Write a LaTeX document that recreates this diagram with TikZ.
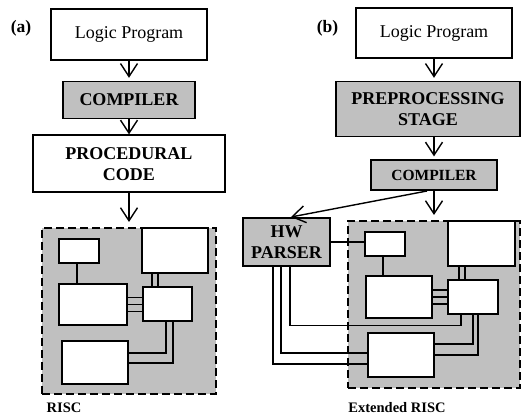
\documentclass[tikz,border=0pt]{standalone}
\usepackage{fontspec}
\setmainfont{Liberation Serif}
\usepackage{xcolor}
\usepackage{tikz}
\usetikzlibrary{arrows.meta,positioning}
\definecolor{boxgray}{RGB}{192,192,192}

\begin{document}
\begin{tikzpicture}[x=1pt,y=-1pt]
                \tikzstyle{block} = [draw, rectangle, line width=1.6pt, inner sep=0pt, align=center, font=\fontsize{18}{21}\selectfont\bfseries]
                \tikzstyle{shaded} = [block, fill=boxgray]
                \tikzstyle{unit} = [draw, rectangle, line width=1.6pt, fill=white, inner sep=0pt]
                \tikzstyle{chip} = [draw, rectangle, dash pattern=on 8pt off 4pt, line width=1.6pt, fill=boxgray, inner sep=0pt]
                \tikzstyle{flow} = [-{Straight Barb[length=13pt,width=17pt]}, line width=1.4pt, shorten >=3pt]
                \tikzstyle{wire} = [line width=1.2pt]
                \tikzstyle{caption} = [font=\fontsize{14.5}{17}\selectfont\bfseries, anchor=base, inner sep=0pt]
                \tikzstyle{tag} = [font=\fontsize{17.5}{20}\selectfont\bfseries]

                \useasboundingbox (0,0) rectangle (522,414);

                % (a) plain flow
                \node [tag] (tag-a) at (21,28) {(a)};
                \node [block, font=\fontsize{18}{21}\selectfont, minimum width=156pt, minimum height=51pt] (logic-a) at (129,34.5) {Logic Program};
                \node [shaded, minimum width=132pt, minimum height=37pt, below = 20pt of logic-a] (compiler-a) {COMPILER};
                \node [block, minimum width=192pt, minimum height=57pt, below = 15pt of compiler-a] (code-a) {PROCEDURAL\\CODE};
                \node [chip, minimum width=174pt, minimum height=166pt, below = 34pt of code-a] (risc-a) {};
                \node [caption] (name-a) at (64,412) {RISC};

                \node [unit, minimum width=40pt, minimum height=24pt] (a-small) at (79,251) {};
                \node [unit, minimum width=66pt, minimum height=45pt] (a-mem) at (175,250.5) {};
                \node [unit, minimum width=68pt, minimum height=41pt] (a-left) at (93,304.5) {};
                \node [unit, minimum width=49pt, minimum height=34pt] (a-right) at (167.5,304) {};
                \node [unit, minimum width=66pt, minimum height=43pt] (a-low) at (95,362.5) {};

                \draw [flow] (logic-a) -- (compiler-a);
                \draw [flow, shorten >=0pt] (compiler-a) -- (code-a);
                \draw [flow, shorten >=5pt] (code-a) -- (risc-a);

                \draw [wire] ([xshift=-2pt]a-small.south) -- ([xshift=-2pt]a-small.south |- a-left.north);
                \foreach \dx in {-15.5,-9.5}
                    \draw [wire] ([xshift=\dx pt]a-right.north) -- ([xshift=\dx pt]a-right.north |- a-mem.south);
                \foreach \dy in {7,0,-7}
                    \draw [wire] ([yshift=\dy pt]a-left.east) -- ([yshift=\dy pt]a-left.east -| a-right.west);
                \draw [wire] ([xshift=-1.5pt]a-right.south) |- ([yshift=9.5pt]a-low.east);
                \draw [wire] ([xshift=5.5pt]a-right.south) |- ([yshift=-0.5pt]a-low.east);

                % (b) with preprocessing and HW parser
                \node [tag] (tag-b) at (327.5,28) {(b)};
                \node [block, font=\fontsize{18}{21}\selectfont, minimum width=156pt, minimum height=50pt] (logic-b) at (434,33) {Logic Program};
                \node [shaded, minimum width=184pt, minimum height=55pt, below = 22pt of logic-b, xshift=-6pt] (prep-b) {PREPROCESSING\\STAGE};
                \node [shaded, font=\fontsize{15.5}{18}\selectfont\bfseries, minimum width=126pt, minimum height=30pt, below = 22pt of prep-b, xshift=6pt] (compiler-b) {COMPILER};
                \node [chip, minimum width=172pt, minimum height=167pt, below = 29pt of compiler-b] (risc-b) {};
                \node [shaded, minimum width=87pt, minimum height=48pt] (hw-parser) at (286.5,242) {HW\\PARSER};
                \node [caption] (name-b) at (397,412) {Extended RISC};

                \node [unit, minimum width=40pt, minimum height=24pt] (b-small) at (385,244) {};
                \node [unit, minimum width=67pt, minimum height=45pt] (b-mem) at (481.5,243.5) {};
                \node [unit, minimum width=66pt, minimum height=42pt] (b-left) at (399,297) {};
                \node [unit, minimum width=50pt, minimum height=34pt] (b-right) at (473,297) {};
                \node [unit, minimum width=66pt, minimum height=44pt] (b-low) at (401,355) {};

                \draw [flow] (compiler-b |- logic-b.south) -- (compiler-b |- prep-b.north);
                \draw [flow] (compiler-b |- prep-b.south) -- (compiler-b.north);
                \draw [flow, shorten >=5pt] (compiler-b) -- (risc-b);
                \draw [flow, shorten >=1pt] ([xshift=-7pt]compiler-b.south) -- ([xshift=3.5pt]hw-parser.north);

                \draw [wire] (hw-parser.east) -- (hw-parser.east -| b-small.west);
                \draw [wire] ([xshift=-2pt]b-small.south) -- ([xshift=-2pt]b-small.south |- b-left.north);
                \foreach \dx in {-14,-8}
                    \draw [wire] ([xshift=\dx pt]b-right.north) -- ([xshift=\dx pt]b-right.north |- b-mem.south);
                \foreach \dy in {7,0,-7}
                    \draw [wire] ([yshift=\dy pt]b-left.east) -- ([yshift=\dy pt]b-left.east -| b-right.west);
                \draw [wire] ([xshift=3.5pt]hw-parser.south) |- ([xshift=-12pt,yshift=-11pt]b-right.south) -- ([xshift=-12pt]b-right.south);
                \draw [wire] (b-right.south) |- ([yshift=11pt]b-low.east);
                \draw [wire] ([xshift=5pt]b-right.south) |- (b-low.east);
                \draw [wire] ([xshift=-5.5pt]hw-parser.south) |- ([yshift=2pt]b-low.west);
                \draw [wire] ([xshift=-13.5pt]hw-parser.south) |- ([yshift=-9pt]b-low.west);
\end{tikzpicture}
\end{document}
